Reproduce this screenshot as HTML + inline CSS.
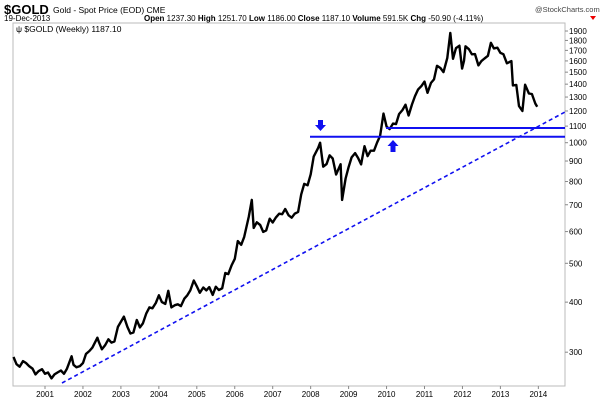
<!DOCTYPE html>
<html><head><meta charset="utf-8">
<style>
body{margin:0;background:#fff;font-family:"Liberation Sans",Arial,sans-serif;}
svg{display:block}
</style></head>
<body>
<svg id="chart" width="600" height="400" viewBox="0 0 600 400" xmlns="http://www.w3.org/2000/svg" font-family="Liberation Sans, Arial, sans-serif">
  <text x="4" y="14" font-size="13" font-weight="bold">$GOLD</text>
  <text x="53" y="13" font-size="8.5">Gold - Spot Price (EOD)  CME</text>
  <text x="4" y="21" font-size="8">19-Dec-2013</text>
  <text x="535" y="12" font-size="7.5" fill="#444">@StockCharts.com</text>
  <text x="144" y="21" font-size="8"><tspan font-weight="bold">Open</tspan> 1237.30 <tspan font-weight="bold">High</tspan> 1251.70 <tspan font-weight="bold">Low</tspan> 1186.00 <tspan font-weight="bold">Close</tspan> 1187.10 <tspan font-weight="bold">Volume</tspan> 591.5K <tspan font-weight="bold">Chg</tspan> -50.90 (-4.11%)</text>
  <polygon points="590,16 596,16 593,20" fill="#e00"/>
  <rect x="13" y="23" width="552" height="363" fill="none" stroke="#bbb" stroke-width="1"/>
  <text x="16" y="32" font-size="8.5">ψ $GOLD (Weekly) 1187.10</text>
  <g id="yaxis"></g>
  <g id="xaxis"></g>
  <g id="series"></g>
  <line x1="310" y1="136.7" x2="565" y2="136.7" stroke="#1010f0" stroke-width="2"/>
  <line x1="386" y1="128" x2="565" y2="128" stroke="#1010f0" stroke-width="2"/>
  <line x1="62" y1="383" x2="565" y2="112" stroke="#1010f0" stroke-width="1.6" stroke-dasharray="4,3"/>
  <polygon points="318,120 323,120 323,125 326,125 320.5,131 315,125 318,125" fill="#1010f0"/>
  <polygon points="390.5,152 395.5,152 395.5,146 398.5,146 393,140 387.5,146 390.5,146" fill="#1010f0"/>
</svg>
<script>
const yTicks=[300,400,500,600,700,800,900,1000,1100,1200,1300,1400,1500,1600,1700,1800,1900];
const xYears=[2001,2002,2003,2004,2005,2006,2007,2008,2009,2010,2011,2012,2013,2014];
const dates=[2000.17,2000.25,2000.33,2000.42,2000.5,2000.58,2000.67,2000.75,2000.83,2000.92,
2001.0,2001.08,2001.17,2001.25,2001.33,2001.42,2001.5,2001.58,2001.7,2001.75,2001.83,2001.92,
2002.0,2002.08,2002.17,2002.25,2002.38,2002.42,2002.5,2002.58,2002.67,2002.75,2002.83,2002.92,
2003.08,2003.17,2003.25,2003.33,2003.42,2003.5,2003.58,2003.67,2003.75,2003.83,2003.92,
2004.0,2004.08,2004.17,2004.25,2004.33,2004.42,2004.5,2004.58,2004.67,2004.75,2004.83,2004.92,
2005.0,2005.08,2005.17,2005.25,2005.33,2005.42,2005.5,2005.58,2005.67,2005.75,2005.83,2005.92,
2006.0,2006.08,2006.17,2006.25,2006.37,2006.45,2006.5,2006.58,2006.67,2006.75,2006.83,2006.92,
2007.0,2007.08,2007.17,2007.25,2007.33,2007.42,2007.5,2007.58,2007.67,2007.75,2007.83,2007.92,
2008.0,2008.08,2008.2,2008.25,2008.33,2008.42,2008.5,2008.58,2008.67,2008.79,2008.83,2008.92,
2009.0,2009.08,2009.17,2009.25,2009.33,2009.42,2009.5,2009.58,2009.67,2009.75,2009.83,2009.92,
2010.0,2010.08,2010.17,2010.25,2010.33,2010.42,2010.5,2010.58,2010.67,2010.75,2010.83,2010.92,
2011.0,2011.08,2011.17,2011.25,2011.33,2011.42,2011.5,2011.6,2011.68,2011.75,2011.83,2011.92,2011.99,
2012.04,2012.08,2012.17,2012.25,2012.33,2012.42,2012.5,2012.58,2012.67,2012.75,2012.83,2012.92,
2013.0,2013.08,2013.17,2013.29,2013.33,2013.42,2013.49,2013.58,2013.65,2013.75,2013.83,2013.92,2013.97];
const prices=[292,280,276,285,282,277,273,264,269,272,
265,267,258,264,267,270,265,273,293,279,275,277,
282,297,302,308,326,318,305,312,323,317,319,347,
368,347,334,336,361,346,354,375,388,386,398,416,
400,396,427,388,393,395,391,408,416,428,453,438,
422,435,428,436,417,437,429,433,473,470,495,513,
568,556,582,654,720,613,633,623,599,604,646,632,
650,665,663,683,659,650,665,672,743,789,783,834,
923,971,1000,871,885,930,913,833,884,720,814,869,
919,942,916,883,980,926,955,955,1001,1040,1182,1096,
1081,1116,1113,1179,1207,1244,1169,1246,1307,1357,1386,1421,
1332,1410,1439,1556,1536,1500,1628,1880,1620,1722,1746,1531,1600,
1740,1711,1662,1664,1559,1598,1622,1648,1776,1719,1726,1675,
1663,1578,1598,1390,1394,1234,1200,1396,1327,1323,1253,1230,1187];
const NS="http://www.w3.org/2000/svg";
function xScale(t){return 45+(t-2001)*37.95;}
function yScale(v){return 142.7-174*Math.log(v/1000);}
const ya=document.getElementById('yaxis');
yTicks.forEach(v=>{
  const y=yScale(v);
  const l=document.createElementNS(NS,'line');
  
  
  l.setAttribute('x1',565);l.setAttribute('x2',568);l.setAttribute('y1',y);l.setAttribute('y2',y);
  l.setAttribute('stroke','#888');ya.appendChild(l);
  const t=document.createElementNS(NS,'text');
  
  
  t.setAttribute('x',569);t.setAttribute('y',y+3);t.setAttribute('font-size','8');
  t.textContent=v;ya.appendChild(t);
});
const xa=document.getElementById('xaxis');
xYears.forEach(yr=>{
  const x=xScale(yr);
  const l=document.createElementNS(NS,'line');
  
  
  l.setAttribute('x1',x);l.setAttribute('x2',x);l.setAttribute('y1',386);l.setAttribute('y2',389);
  l.setAttribute('stroke','#888');xa.appendChild(l);
  const t=document.createElementNS(NS,'text');
  
  
  t.setAttribute('x',x);t.setAttribute('y',397);t.setAttribute('font-size','8');t.setAttribute('text-anchor','middle');
  t.textContent=yr;xa.appendChild(t);
});
const p=document.createElementNS(NS,'polyline');


p.setAttribute('points',dates.map((d,i)=>xScale(d).toFixed(1)+','+yScale(prices[i]).toFixed(1)).join(' '));
p.setAttribute('fill','none');p.setAttribute('stroke','#000');p.setAttribute('stroke-width','2.4');p.setAttribute('stroke-linejoin','round');
document.getElementById('series').appendChild(p);
</script>
</body></html>
